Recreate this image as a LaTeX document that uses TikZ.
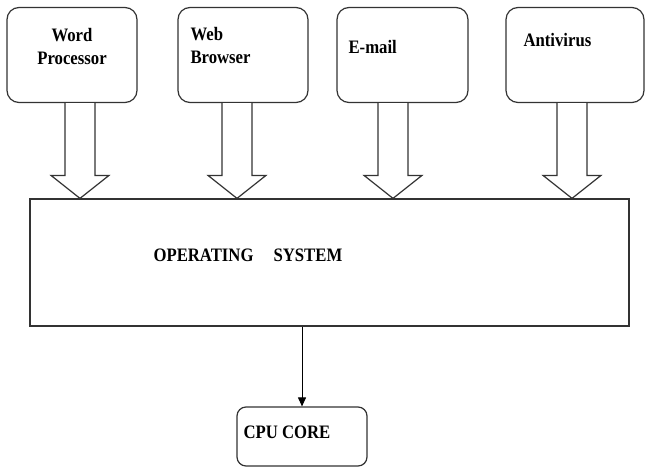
\documentclass[tikz,border=0pt]{standalone}
\usepackage{fontspec}
\setmainfont[FakeStretch=0.88]{Liberation Serif}
\usetikzlibrary{calc}
\usetikzlibrary{arrows.meta}

% hollow block arrow going down from one box to another
\newcommand{\fatarrow}[3]{%
  \path ([xshift=#1]#2.south) coordinate (fa-s);
  \path (fa-s |- #3.north) coordinate (fa-t);
  \draw [hollow] ($(fa-s)+(-15,0)$) -- ($(fa-t)+(-15,-23)$) -- ($(fa-t)+(-29,-23)$)
    -- (fa-t) -- ($(fa-t)+(29,-23)$) -- ($(fa-t)+(15,-23)$) -- ($(fa-s)+(15,0)$);
}

\begin{document}
\begin{tikzpicture}[x=1pt,y=-1pt,
  every node/.style={font=\fontsize{19}{23}\selectfont\bfseries},
  appbox/.style={draw=black!80,line width=1.2pt,rounded corners=12pt,minimum width=130pt,minimum height=95pt},
  osbox/.style={draw=black!80,line width=1.2pt,minimum width=599pt,minimum height=127pt},
  hollow/.style={draw=black!80,line width=1.2pt,fill=white}]
\useasboundingbox [fill=white] (0,0) rectangle (650,468);

\node (wp) [appbox] at (72,55) {};
\node (wb) [appbox] at (243,55) {};
\node (em) [appbox,minimum width=131pt] at (402.5,55) {};
\node (av) [appbox,minimum width=138pt] at (575,55) {};
\node (os) [osbox] at (329.5,262.5) {};
\node (cpu) [appbox,minimum width=130pt,minimum height=59pt,rounded corners=9pt] at (302,436.5) {};

\node (wp-text) [align=center] at (72,46.5) {Word\\Processor};
\node (wb-text) [align=left,anchor=west] at (187,46) {Web\\Browser};
\node (em-text) [anchor=west] at (345,47) {E-mail};
\node (av-text) [anchor=west] at (520,40) {Antivirus};
\node (os-text) [anchor=west] at (150,255) {OPERATING\hspace{20pt}SYSTEM};
\node (cpu-text) [anchor=west] at (240,432) {CPU CORE};

\fatarrow{8pt}{wp}{os}
\fatarrow{-6pt}{wb}{os}
\fatarrow{-9.5pt}{em}{os}
\fatarrow{-3pt}{av}{os}

\draw [-{Triangle[length=9pt,width=8pt]},line width=1pt] (os.south -| cpu.north) -- (cpu.north);
\end{tikzpicture}
\end{document}
